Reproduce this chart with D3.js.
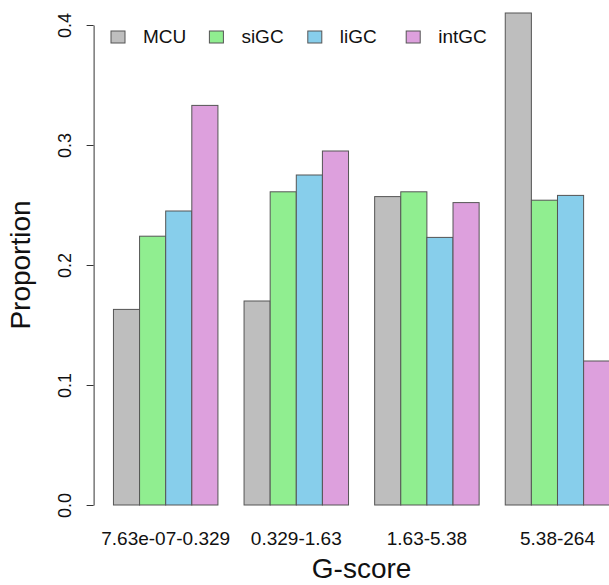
<!DOCTYPE html>
<html>
<head>
<meta charset="utf-8">
<script src="https://cdn.jsdelivr.net/npm/d3@7"></script>
<style>
  body { margin: 0; background: #fff; }
  text { font-family: "Liberation Sans", Arial, Helvetica, sans-serif; fill: #111; }
</style>
</head>
<body>
<svg id="chart"></svg>
<script>
// bins of G-score and the four groups
let bins = ["7.63e-07-0.329", "0.329-1.63", "1.63-5.38", "5.38-264"];
let groups = ["MCU", "siGC", "liGC", "intGC"];
let colors = ["#bebebe", "#90ee90", "#87ceeb", "#dda0dd"];
// proportion per group, one value per bin
let MCU = [0.163, 0.170, 0.257, 0.410];
let siGC = [0.224, 0.261, 0.261, 0.254];
let liGC = [0.245, 0.275, 0.223, 0.258];
let intGC = [0.333, 0.295, 0.252, 0.120];
let yTicks = [0, 0.1, 0.2, 0.3, 0.4];

let series = [MCU, siGC, liGC, intGC];

let width = 609;
let height = 585;

let svg = d3.select("#chart")
    .attr("width", width)
    .attr("height", height);

// bar units like R's barplot: one unit per bar, one unit gap before each group
let nUnits = bins.length * (groups.length + 1);
let xScale = d3.scaleLinear()
    .domain([0.24, nUnits + 0.76])
    .range([93.6, 93.6 + (nUnits + 0.52) * 26.12]);
let yScale = d3.scaleLinear()
    .domain([0, 0.4])
    .range([505, 25]);

let bars = [];
bins.forEach((b, i) => {
    groups.forEach((g, j) => {
        bars.push({ bin: i, group: j, value: series[j][i], start: 1 + i * (groups.length + 1) + j });
    });
});

svg.append("g")
    .selectAll("rect")
    .data(bars)
    .enter().append("rect")
    .attr("x", d => xScale(d.start))
    .attr("y", d => yScale(d.value))
    .attr("width", d => xScale(d.start + 1) - xScale(d.start))
    .attr("height", d => yScale(0) - yScale(d.value))
    .attr("fill", d => colors[d.group])
    .attr("stroke", "#555")
    .attr("stroke-width", 1);

// y axis
let yAxis = svg.append("g")
    .attr("transform", `translate(${xScale(0.24)},0)`)
    .call(d3.axisLeft(yScale).tickValues(yTicks).tickSize(7).tickSizeOuter(0).tickFormat(d3.format(".1f")));
yAxis.select(".domain").attr("stroke", "#333");
yAxis.selectAll(".tick line").attr("stroke", "#333");
yAxis.selectAll(".tick text")
    .attr("transform", "rotate(-90)")
    .attr("text-anchor", "middle")
    .attr("x", 0)
    .attr("y", -23)
    .attr("dy", 0)
    .style("font-size", "18px")
    .style("font-family", "Liberation Sans, Arial, sans-serif")
    .attr("fill", "#111");

// bin labels under each group
svg.append("g")
    .selectAll("text")
    .data(bins)
    .enter().append("text")
    .attr("x", (d, i) => xScale(1 + i * (groups.length + 1) + groups.length / 2))
    .attr("y", 545)
    .attr("text-anchor", "middle")
    .style("font-size", "19px")
    .text(d => d);

// axis titles
svg.append("text")
    .attr("x", (xScale(0.24) + xScale(nUnits + 0.76)) / 2)
    .attr("y", 578)
    .attr("text-anchor", "middle")
    .style("font-size", "28px")
    .text("G-score");
svg.append("text")
    .attr("transform", `translate(30,${(yScale(0) + yScale(0.4)) / 2}) rotate(-90)`)
    .attr("text-anchor", "middle")
    .style("font-size", "28px")
    .text("Proportion");

// legend
let legend = svg.append("g")
    .selectAll("g")
    .data(groups)
    .enter().append("g")
    .attr("transform", (d, i) => `translate(${111 + i * 98.4},31)`);
legend.append("rect")
    .attr("width", 14)
    .attr("height", 12)
    .attr("fill", (d, i) => colors[i])
    .attr("stroke", "#555");
legend.append("text")
    .attr("x", 32)
    .attr("y", 12)
    .style("font-size", "19px")
    .text(d => d);
</script>
</body>
</html>
